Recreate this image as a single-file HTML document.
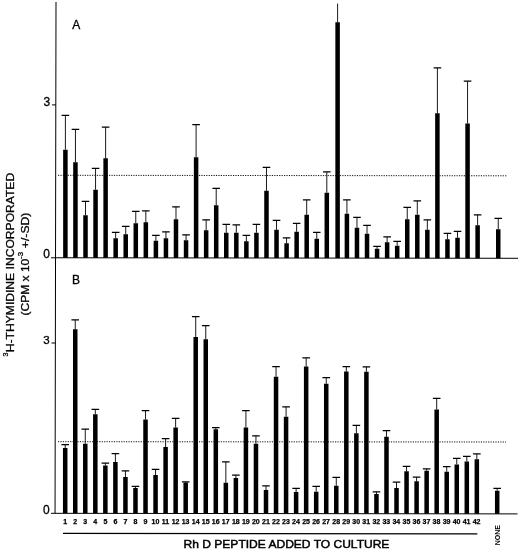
<!DOCTYPE html>
<html><head><meta charset="utf-8"><title>Figure</title>
<style>html,body{margin:0;padding:0;background:#fff}body{width:520px;height:551px;overflow:hidden}</style></head>
<body>
<svg width="520" height="551" viewBox="0 0 520 551" style="display:block">
<rect width="520" height="551" fill="#fff"/>
<path d="M56 2L55.05 513.5M51 257.75L518 258.3M51 513.3L517.5 513.9M52 104.9H56M51.5 343H55.5" stroke="#000" stroke-width="1" fill="none"/>
<path d="M58 175.3L507 175.8M58 441.7L506 442" stroke="#111" stroke-width="1" stroke-dasharray="1.2 1.23" fill="none"/>
<g fill="#000"><rect x="63.15" y="149.75" width="4.5" height="108.02"/><rect x="73.20" y="162.25" width="4.5" height="95.53"/><rect x="83.26" y="215.25" width="4.5" height="42.54"/><rect x="93.31" y="189.75" width="4.5" height="68.05"/><rect x="103.37" y="158.25" width="4.5" height="99.57"/><rect x="113.42" y="238.25" width="4.5" height="19.58"/><rect x="123.47" y="234.25" width="4.5" height="23.59"/><rect x="133.53" y="223.25" width="4.5" height="34.60"/><rect x="143.58" y="222.25" width="4.5" height="35.61"/><rect x="153.64" y="240.75" width="4.5" height="17.13"/><rect x="163.69" y="238.25" width="4.5" height="19.64"/><rect x="173.74" y="219.25" width="4.5" height="38.65"/><rect x="183.80" y="240.25" width="4.5" height="17.66"/><rect x="193.85" y="157.25" width="4.5" height="100.67"/><rect x="203.91" y="230.25" width="4.5" height="27.69"/><rect x="213.96" y="205.25" width="4.5" height="52.70"/><rect x="224.01" y="232.75" width="4.5" height="25.21"/><rect x="234.07" y="232.75" width="4.5" height="25.22"/><rect x="244.12" y="241.25" width="4.5" height="16.73"/><rect x="254.18" y="232.75" width="4.5" height="25.25"/><rect x="264.23" y="190.75" width="4.5" height="67.26"/><rect x="274.28" y="229.75" width="4.5" height="28.27"/><rect x="284.34" y="243.25" width="4.5" height="14.78"/><rect x="294.39" y="231.75" width="4.5" height="26.29"/><rect x="304.45" y="214.75" width="4.5" height="43.31"/><rect x="314.50" y="238.75" width="4.5" height="19.32"/><rect x="324.55" y="192.75" width="4.5" height="65.33"/><rect x="335.35" y="22.25" width="4.5" height="235.84"/><rect x="344.66" y="213.75" width="4.5" height="44.36"/><rect x="354.72" y="227.75" width="4.5" height="30.37"/><rect x="364.77" y="233.75" width="4.5" height="24.38"/><rect x="374.82" y="248.75" width="4.5" height="9.39"/><rect x="384.88" y="242.25" width="4.5" height="15.90"/><rect x="394.93" y="245.75" width="4.5" height="12.42"/><rect x="404.99" y="219.25" width="4.5" height="38.93"/><rect x="415.04" y="214.75" width="4.5" height="43.44"/><rect x="425.09" y="229.75" width="4.5" height="28.45"/><rect x="435.15" y="113.25" width="4.5" height="144.96"/><rect x="445.20" y="239.25" width="4.5" height="18.98"/><rect x="455.26" y="237.75" width="4.5" height="20.49"/><rect x="465.31" y="123.50" width="4.5" height="134.75"/><rect x="475.36" y="225.25" width="4.5" height="33.01"/><rect x="496.00" y="229.25" width="4.5" height="29.04"/></g>
<path d="M65.40 149.75V115.35M75.45 162.25V129.35M85.51 215.25V201.35M95.56 189.75V168.35M105.62 158.25V127.10M115.67 238.25V232.35M125.72 234.25V226.35M135.78 223.25V211.35M145.83 222.25V210.85M155.89 240.75V235.35M165.94 238.25V231.85M175.99 219.25V206.85M186.05 240.25V234.85M196.10 157.25V124.60M206.16 230.25V219.85M216.21 205.25V188.35M226.26 232.75V224.35M236.32 232.75V224.85M246.37 241.25V235.35M256.43 232.75V224.35M266.48 190.75V167.35M276.53 229.75V220.35M286.59 243.25V237.85M296.64 231.75V223.35M306.70 214.75V199.85M316.75 238.75V232.35M326.80 192.75V171.85M337.60 22.25V3.55M346.91 213.75V199.85M356.97 227.75V217.35M367.02 233.75V225.35M377.07 248.75V246.35M387.13 242.25V236.85M397.18 245.75V241.35M407.24 219.25V207.35M417.29 214.75V200.85M427.34 229.75V219.85M437.40 113.25V67.85M447.45 239.25V233.35M457.51 237.75V231.35M467.56 123.50V81.10M477.61 225.25V214.85M498.25 229.25V218.35" stroke="#1a1a1a" stroke-width="1" fill="none"/>
<path d="M61.60 115.35h7.6M71.65 129.35h7.6M81.71 201.35h7.6M91.76 168.35h7.6M101.82 127.10h7.6M111.87 232.35h7.6M121.92 226.35h7.6M131.98 211.35h7.6M142.03 210.85h7.6M152.09 235.35h7.6M162.14 231.85h7.6M172.19 206.85h7.6M182.25 234.85h7.6M192.30 124.60h7.6M202.36 219.85h7.6M212.41 188.35h7.6M222.46 224.35h7.6M232.52 224.85h7.6M242.57 235.35h7.6M252.63 224.35h7.6M262.68 167.35h7.6M272.73 220.35h7.6M282.79 237.85h7.6M292.84 223.35h7.6M302.90 199.85h7.6M312.95 232.35h7.6M323.00 171.85h7.6M343.11 199.85h7.6M353.17 217.35h7.6M363.22 225.35h7.6M373.27 246.35h7.6M383.33 236.85h7.6M393.38 241.35h7.6M403.44 207.35h7.6M413.49 200.85h7.6M423.54 219.85h7.6M433.60 67.85h7.6M443.65 233.35h7.6M453.71 231.35h7.6M463.76 81.10h7.6M473.81 214.85h7.6M494.45 218.35h7.6" stroke="#000" stroke-width="1.25" fill="none"/>
<g fill="#000"><rect x="62.95" y="448.00" width="4.5" height="65.32"/><rect x="72.99" y="329.25" width="4.5" height="184.08"/><rect x="83.03" y="443.75" width="4.5" height="69.59"/><rect x="93.07" y="414.25" width="4.5" height="99.10"/><rect x="103.11" y="465.50" width="4.5" height="47.87"/><rect x="113.15" y="462.00" width="4.5" height="51.38"/><rect x="123.19" y="477.00" width="4.5" height="36.39"/><rect x="133.23" y="488.00" width="4.5" height="25.40"/><rect x="143.27" y="419.50" width="4.5" height="93.91"/><rect x="153.31" y="475.00" width="4.5" height="38.43"/><rect x="163.35" y="447.00" width="4.5" height="66.44"/><rect x="173.39" y="427.50" width="4.5" height="85.95"/><rect x="183.43" y="482.50" width="4.5" height="30.96"/><rect x="193.47" y="337.00" width="4.5" height="176.47"/><rect x="203.51" y="339.25" width="4.5" height="174.24"/><rect x="213.55" y="429.25" width="4.5" height="84.25"/><rect x="223.59" y="482.75" width="4.5" height="30.76"/><rect x="233.63" y="478.00" width="4.5" height="35.52"/><rect x="243.67" y="427.50" width="4.5" height="86.03"/><rect x="253.71" y="443.75" width="4.5" height="69.80"/><rect x="263.75" y="490.00" width="4.5" height="23.56"/><rect x="273.79" y="376.75" width="4.5" height="136.82"/><rect x="283.83" y="416.75" width="4.5" height="96.83"/><rect x="293.87" y="492.00" width="4.5" height="21.59"/><rect x="303.91" y="366.50" width="4.5" height="147.11"/><rect x="313.95" y="491.75" width="4.5" height="21.87"/><rect x="323.99" y="383.75" width="4.5" height="129.88"/><rect x="334.03" y="485.75" width="4.5" height="27.89"/><rect x="344.07" y="371.50" width="4.5" height="142.15"/><rect x="354.11" y="433.25" width="4.5" height="80.42"/><rect x="364.15" y="371.75" width="4.5" height="141.93"/><rect x="374.19" y="494.00" width="4.5" height="19.69"/><rect x="384.23" y="436.75" width="4.5" height="76.95"/><rect x="394.27" y="488.00" width="4.5" height="25.71"/><rect x="404.31" y="471.25" width="4.5" height="42.48"/><rect x="414.35" y="481.25" width="4.5" height="32.49"/><rect x="424.39" y="470.75" width="4.5" height="43.00"/><rect x="434.43" y="409.50" width="4.5" height="104.26"/><rect x="444.47" y="471.75" width="4.5" height="42.02"/><rect x="454.51" y="464.50" width="4.5" height="49.29"/><rect x="464.55" y="461.50" width="4.5" height="52.30"/><rect x="474.59" y="459.25" width="4.5" height="54.56"/><rect x="494.95" y="490.75" width="4.5" height="23.09"/></g>
<path d="M65.20 448.00V444.60M75.24 329.25V319.90M85.28 443.75V429.10M95.32 414.25V409.35M105.36 465.50V463.10M115.40 462.00V453.60M125.44 477.00V470.85M135.48 488.00V486.35M145.52 419.50V410.60M155.56 475.00V469.35M165.60 447.00V438.60M175.64 427.50V418.35M185.68 482.50V481.85M195.72 337.00V316.60M205.76 339.25V325.60M215.80 429.25V427.60M225.84 482.75V461.85M235.88 478.00V475.10M245.92 427.50V410.60M255.96 443.75V435.85M266.00 490.00V485.85M276.04 376.75V366.60M286.08 416.75V406.85M296.12 492.00V488.35M306.16 366.50V357.85M316.20 491.75V486.35M326.24 383.75V377.60M336.28 485.75V477.35M346.32 371.50V366.60M356.36 433.25V425.35M366.40 371.75V366.85M376.44 494.00V491.85M386.48 436.75V430.60M396.52 488.00V482.10M406.56 471.25V466.35M416.60 481.25V477.10M426.64 470.75V468.85M436.68 409.50V398.35M446.72 471.75V466.60M456.76 464.50V458.35M466.80 461.50V456.35M476.84 459.25V453.85M497.20 490.75V488.35" stroke="#1a1a1a" stroke-width="1" fill="none"/>
<path d="M61.40 444.60h7.6M71.44 319.90h7.6M81.48 429.10h7.6M91.52 409.35h7.6M101.56 463.10h7.6M111.60 453.60h7.6M121.64 470.85h7.6M131.68 486.35h7.6M141.72 410.60h7.6M151.76 469.35h7.6M161.80 438.60h7.6M171.84 418.35h7.6M181.88 481.85h7.6M191.92 316.60h7.6M201.96 325.60h7.6M212.00 427.60h7.6M222.04 461.85h7.6M232.08 475.10h7.6M242.12 410.60h7.6M252.16 435.85h7.6M262.20 485.85h7.6M272.24 366.60h7.6M282.28 406.85h7.6M292.32 488.35h7.6M302.36 357.85h7.6M312.40 486.35h7.6M322.44 377.60h7.6M332.48 477.35h7.6M342.52 366.60h7.6M352.56 425.35h7.6M362.60 366.85h7.6M372.64 491.85h7.6M382.68 430.60h7.6M392.72 482.10h7.6M402.76 466.35h7.6M412.80 477.10h7.6M422.84 468.85h7.6M432.88 398.35h7.6M442.92 466.60h7.6M452.96 458.35h7.6M463.00 456.35h7.6M473.04 453.85h7.6M493.40 488.35h7.6" stroke="#000" stroke-width="1.25" fill="none"/>
<path d="M63 533.3L477.3 533.85" stroke="#000" stroke-width="1.2" fill="none"/>
<g font-family="'Liberation Sans', sans-serif" font-size="7" font-weight="bold" text-anchor="middle" fill="#000" stroke="#000" stroke-width="0.25"><text x="65.20" y="524.1">1</text><text x="75.23" y="524.1">2</text><text x="85.27" y="524.1">3</text><text x="95.31" y="524.1">4</text><text x="105.34" y="524.1">5</text><text x="115.38" y="524.1">6</text><text x="125.41" y="524.1">7</text><text x="135.44" y="524.1">8</text><text x="145.48" y="524.1">9</text><text x="155.51" y="524.1">10</text><text x="165.55" y="524.1">11</text><text x="175.59" y="524.1">12</text><text x="185.62" y="524.1">13</text><text x="195.66" y="524.1">14</text><text x="205.69" y="524.1">15</text><text x="215.73" y="524.1">16</text><text x="225.76" y="524.1">17</text><text x="235.80" y="524.1">18</text><text x="245.83" y="524.1">19</text><text x="255.87" y="524.1">20</text><text x="265.90" y="524.1">21</text><text x="275.94" y="524.1">22</text><text x="285.97" y="524.1">23</text><text x="296.00" y="524.1">24</text><text x="306.04" y="524.1">25</text><text x="316.07" y="524.1">26</text><text x="326.11" y="524.1">27</text><text x="336.14" y="524.1">28</text><text x="346.18" y="524.1">29</text><text x="356.21" y="524.1">30</text><text x="366.25" y="524.1">31</text><text x="376.28" y="524.1">32</text><text x="386.32" y="524.1">33</text><text x="396.36" y="524.1">34</text><text x="406.39" y="524.1">35</text><text x="416.43" y="524.1">36</text><text x="426.46" y="524.1">37</text><text x="436.50" y="524.1">38</text><text x="446.53" y="524.1">39</text><text x="456.56" y="524.1">40</text><text x="466.60" y="524.1">41</text><text x="476.63" y="524.1">42</text></g>
<text font-family="'Liberation Sans', sans-serif" font-size="7" font-weight="bold" fill="#000" transform="translate(500 545.2) rotate(-90)">NONE</text>
<text font-family="'Liberation Sans', sans-serif" font-size="11.2" fill="#000" stroke="#000" stroke-width="0.45" x="183.6" y="547.8" textLength="205.8" lengthAdjust="spacingAndGlyphs">Rh D PEPTIDE ADDED TO CULTURE</text>
<text font-family="'Liberation Sans', sans-serif" font-size="12" fill="#000" stroke="#000" stroke-width="0.3" x="72.3" y="28.8">A</text>
<text font-family="'Liberation Sans', sans-serif" font-size="12" fill="#000" stroke="#000" stroke-width="0.3" x="72.0" y="283.8">B</text>
<g font-family="'Liberation Sans', sans-serif" font-size="12" fill="#000" stroke="#000" stroke-width="0.3" text-anchor="end"><text x="50.2" y="106">3</text><text x="50" y="258.3">0</text><text x="49.7" y="343.8" font-size="11.5">3</text><text x="49.6" y="514.1">0</text></g>
<g font-family="'Liberation Sans', sans-serif" font-size="11.3" fill="#000" stroke="#000" stroke-width="0.3"><text transform="translate(7.6 356.4) rotate(-90)" font-size="7.2">3</text><text transform="translate(14.2 352.2) rotate(-90)" textLength="179.4" lengthAdjust="spacingAndGlyphs">H-THYMIDINE INCORPORATED</text>
<text transform="translate(28.5 315.5) rotate(-90)" textLength="56.8" lengthAdjust="spacingAndGlyphs">(CPM x 10</text><text transform="translate(22.8 258.9) rotate(-90)" font-size="8">-3</text><text transform="translate(28.5 248.2) rotate(-90)" textLength="35.6" lengthAdjust="spacingAndGlyphs">+/-SD)</text></g>
</svg>
</body></html>
